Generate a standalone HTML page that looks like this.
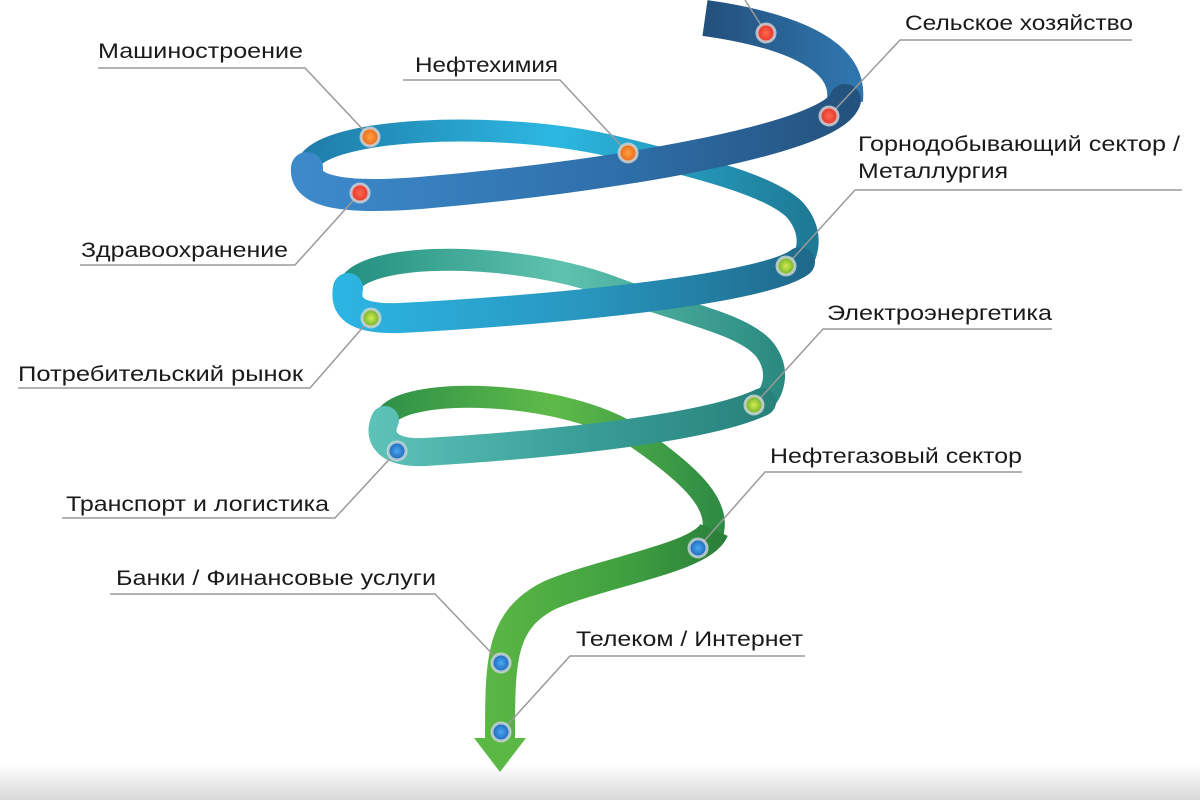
<!DOCTYPE html>
<html><head><meta charset="utf-8"><style>
html,body{margin:0;padding:0;background:#fff;}
svg{display:block;}
text{font-family:"Liberation Sans",sans-serif;font-size:21px;fill:#1a1a1a;}
</style></head><body>
<svg width="1200" height="800" viewBox="0 0 1200 800">
<defs>
<linearGradient id="shadow" x1="0" y1="0" x2="0" y2="1">
<stop offset="0" stop-color="#fff"/><stop offset="1" stop-color="#d8d8d8"/></linearGradient>
<linearGradient id="f1" gradientUnits="userSpaceOnUse" x1="300" y1="0" x2="850" y2="0">
<stop offset="0" stop-color="#3d8acb"/><stop offset="0.6" stop-color="#2e6ea8"/><stop offset="1" stop-color="#24527e"/></linearGradient>
<linearGradient id="top" gradientUnits="userSpaceOnUse" x1="705" y1="0" x2="850" y2="0">
<stop offset="0" stop-color="#23507c"/><stop offset="1" stop-color="#2f75ad"/></linearGradient>
<linearGradient id="b1" gradientUnits="userSpaceOnUse" x1="300" y1="0" x2="810" y2="0">
<stop offset="0" stop-color="#1f7ba8"/><stop offset="0.5" stop-color="#2cb8e2"/><stop offset="1" stop-color="#1e7a95"/></linearGradient>
<linearGradient id="f2" gradientUnits="userSpaceOnUse" x1="345" y1="0" x2="805" y2="0">
<stop offset="0" stop-color="#2cb4e2"/><stop offset="0.5" stop-color="#2898c0"/><stop offset="1" stop-color="#1f6a8c"/></linearGradient>
<linearGradient id="b2" gradientUnits="userSpaceOnUse" x1="345" y1="0" x2="780" y2="0">
<stop offset="0" stop-color="#249080"/><stop offset="0.5" stop-color="#5fc2ae"/><stop offset="1" stop-color="#2a8a80"/></linearGradient>
<linearGradient id="f3" gradientUnits="userSpaceOnUse" x1="378" y1="0" x2="775" y2="0">
<stop offset="0" stop-color="#5cc2b8"/><stop offset="0.5" stop-color="#3a9f98"/><stop offset="1" stop-color="#27807a"/></linearGradient>
<linearGradient id="b3" gradientUnits="userSpaceOnUse" x1="380" y1="0" x2="725" y2="0">
<stop offset="0" stop-color="#2e9048"/><stop offset="0.5" stop-color="#5fbb48"/><stop offset="1" stop-color="#2c8a44"/></linearGradient>
<linearGradient id="tail" gradientUnits="userSpaceOnUse" x1="480" y1="0" x2="725" y2="0">
<stop offset="0" stop-color="#5cb844"/><stop offset="0.6" stop-color="#3fa040"/><stop offset="1" stop-color="#2a7e3a"/></linearGradient>
<radialGradient id="red"><stop offset="0" stop-color="#ff6a4a"/><stop offset="1" stop-color="#e2312b"/></radialGradient>
<radialGradient id="org"><stop offset="0" stop-color="#ffa040"/><stop offset="1" stop-color="#e8661a"/></radialGradient>
<radialGradient id="grn"><stop offset="0" stop-color="#d4ec50"/><stop offset="1" stop-color="#6aae2a"/></radialGradient>
<radialGradient id="blu"><stop offset="0" stop-color="#4aa8f0"/><stop offset="1" stop-color="#1d64b8"/></radialGradient>
</defs>
<rect x="0" y="765" width="1200" height="35" fill="url(#shadow)"/>
<g fill="none" stroke-linecap="round">
<path d="M307 168 C310 128 500 118 620 148 C700 168 770 185 795 210 C812 230 810 250 800 265" stroke="url(#b1)" stroke-width="22"/>
<path d="M348 288 C360 250 520 250 620 290 C690 315 745 325 765 350 C780 370 775 392 760 405" stroke="url(#b2)" stroke-width="22"/>
<path d="M385 420 C395 385 570 388 640 440 C690 475 722 505 712 535" stroke="url(#b3)" stroke-width="22"/>
<path d="M705 18 C790 30 850 55 845 100" stroke="url(#top)" stroke-width="36" stroke-linecap="butt"/>
<path d="M845 100 C832 140 600 178 420 193 C330 200 305 188 307 168" stroke="url(#f1)" stroke-width="32"/>
<path d="M800 262 C760 292 520 312 400 318 C352 320 345 305 348 288" stroke="url(#f2)" stroke-width="30"/>
<path d="M762 402 C700 432 510 447 425 452 C384 454 378 435 385 420" stroke="url(#f3)" stroke-width="28"/>
<path d="M714 530 C702 558 610 570 550 595 C500 620 500 660 500 740" stroke="url(#tail)" stroke-width="30" stroke-linecap="butt"/>
</g>
<polygon points="474,738 526,738 500,772" fill="#5cb844"/>
<g stroke="#9a9a9a" stroke-width="1.5" fill="none">
<polyline points="745,0 766,33"/>
<polyline points="1132,40 900,40 829,116"/>
<polyline points="98,68 305,68 370,137"/>
<polyline points="403,80 560,80 628,153"/>
<polyline points="80,265 295,265 360,193"/>
<polyline points="1182,190 855,190 786,266"/>
<polyline points="18,388 310,388 371,318"/>
<polyline points="1052,329 823,329 754,405"/>
<polyline points="62,518 335,518 397,451"/>
<polyline points="1022,472 765,472 698,548"/>
<polyline points="110,594 435,594 501,663"/>
<polyline points="805,656 570,656 501,732"/>
</g>
<g stroke="#cfd8dc" stroke-opacity="0.8" stroke-width="3">
<circle cx="766" cy="33" r="9" fill="url(#red)"/>
<circle cx="829" cy="116" r="9" fill="url(#red)"/>
<circle cx="370" cy="137" r="9" fill="url(#org)"/>
<circle cx="628" cy="153" r="9" fill="url(#org)"/>
<circle cx="360" cy="193" r="9" fill="url(#red)"/>
<circle cx="786" cy="266" r="9" fill="url(#grn)"/>
<circle cx="371" cy="318" r="9" fill="url(#grn)"/>
<circle cx="754" cy="405" r="9" fill="url(#grn)"/>
<circle cx="397" cy="451" r="9" fill="url(#blu)"/>
<circle cx="698" cy="548" r="9" fill="url(#blu)"/>
<circle cx="501" cy="663" r="9" fill="url(#blu)"/>
<circle cx="501" cy="732" r="9" fill="url(#blu)"/>
</g>
<text x="905" y="30" textLength="228" lengthAdjust="spacingAndGlyphs">Сельское хозяйство</text>
<text x="98" y="58" textLength="205" lengthAdjust="spacingAndGlyphs">Машиностроение</text>
<text x="415" y="72" textLength="143" lengthAdjust="spacingAndGlyphs">Нефтехимия</text>
<text x="858" y="151" textLength="322" lengthAdjust="spacingAndGlyphs">Горнодобывающий сектор /</text>
<text x="858" y="178" textLength="150" lengthAdjust="spacingAndGlyphs">Металлургия</text>
<text x="81" y="257" textLength="207" lengthAdjust="spacingAndGlyphs">Здравоохранение</text>
<text x="827" y="320" textLength="225" lengthAdjust="spacingAndGlyphs">Электроэнергетика</text>
<text x="18" y="381" textLength="285" lengthAdjust="spacingAndGlyphs">Потребительский рынок</text>
<text x="770" y="463" textLength="252" lengthAdjust="spacingAndGlyphs">Нефтегазовый сектор</text>
<text x="66" y="511" textLength="263" lengthAdjust="spacingAndGlyphs">Транспорт и логистика</text>
<text x="116" y="585" textLength="320" lengthAdjust="spacingAndGlyphs">Банки / Финансовые услуги</text>
<text x="576" y="646" textLength="227" lengthAdjust="spacingAndGlyphs">Телеком / Интернет</text>
</svg>
</body></html>
